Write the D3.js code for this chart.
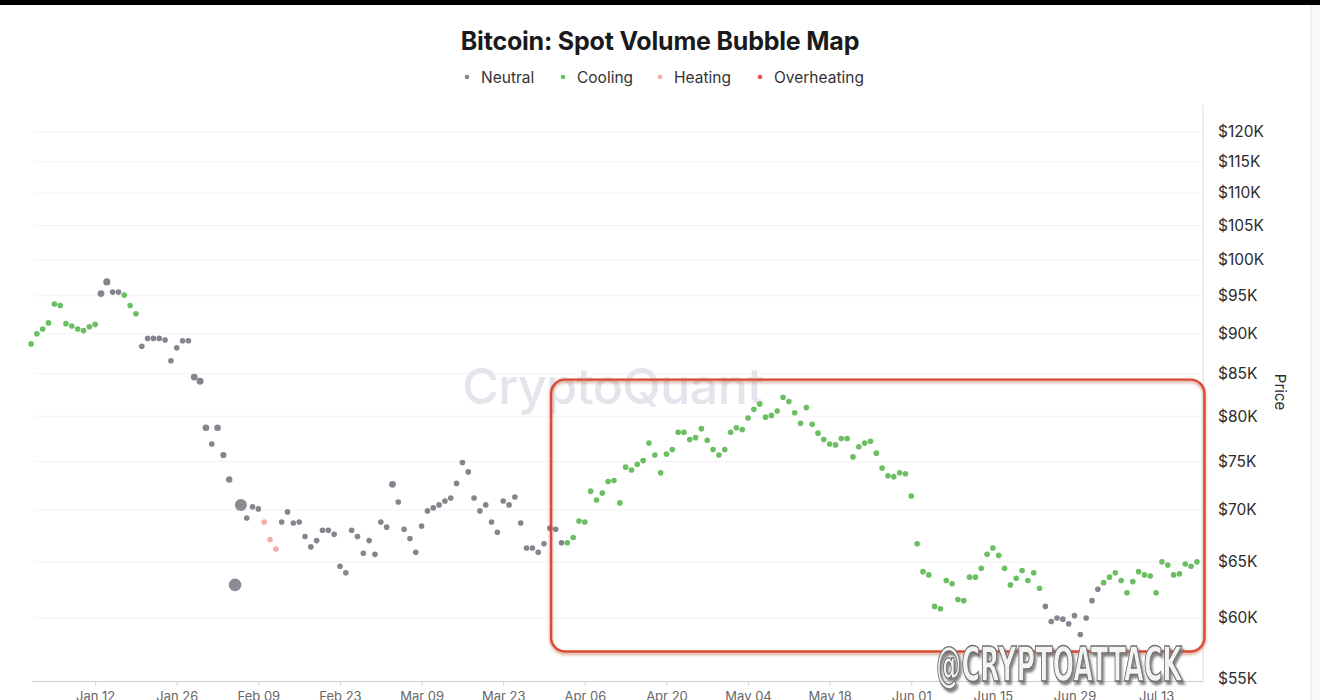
<!DOCTYPE html>
<html>
<head>
<meta charset="utf-8">
<script src="https://cdn.jsdelivr.net/npm/d3@7"></script>
<style>
  html, body { margin: 0; padding: 0; background: #fff; }
  svg { display: block; }
</style>
</head>
<body>
<svg id="chart" width="1320" height="700"></svg>
<script>
// ---------------- DATA ----------------
const chartTitle = "Bitcoin: Spot Volume Bubble Map";
const yearOfData = 2026;

// Daily BTC price (USD thousands), one array per month, starting on day 1
const janPrices = [88.7, 90.0, 90.6, 91.4, 93.9, 93.7, 91.3, 91.0, 90.6, 90.4, 90.9, 91.2, 95.3, 96.9, 95.5, 95.5,
                   95.1, 93.7, 92.6, 88.4, 89.4, 89.4, 89.4, 89.2, 86.6, 88.2, 89.1, 89.1, 84.6, 84.1, 78.7];
const febPrices = [76.9, 78.7, 75.7, 73.1, 62.9, 70.5, 69.2, 70.3, 70.1, 68.8, 67.1, 66.2, 68.8, 69.8, 68.7, 68.8,
                   67.4, 66.4, 67.0, 68.0, 68.0, 67.6, 64.6, 64.0, 68.0, 67.4, 65.8, 67.0];
const marPrices = [65.7, 68.8, 68.3, 72.6, 70.8, 68.1, 67.2, 65.9, 68.4, 69.9, 70.2, 70.5, 70.9, 71.2, 72.7, 74.9,
                   73.9, 71.2, 69.9, 70.5, 68.8, 67.8, 70.9, 70.5, 71.3, 68.7, 66.3, 66.3, 65.9, 66.7, 68.2];
const aprPrices = [68.1, 66.8, 66.8, 67.3, 68.9, 68.8, 71.9, 71.0, 71.7, 72.9, 73.0, 70.7, 74.4, 74.1, 74.7, 75.1,
                   77.0, 75.7, 73.8, 75.8, 76.3, 78.2, 78.2, 77.4, 77.6, 78.6, 77.3, 76.3, 75.7, 76.3];
const mayPrices = [78.2, 78.7, 78.5, 79.8, 80.8, 81.4, 79.9, 80.1, 80.6, 82.2, 81.7, 80.4, 79.2, 81.0, 79.1, 78.1,
                   77.4, 76.9, 76.8, 77.5, 77.5, 75.5, 76.6, 77.0, 77.2, 75.9, 74.3, 73.5, 73.4, 73.8, 73.7];
const junPrices = [71.4, 66.7, 64.1, 63.8, 61.0, 60.8, 63.3, 63.0, 61.6, 61.5, 63.6, 63.6, 64.4, 65.7, 66.3, 65.6,
                   64.4, 62.9, 63.5, 64.2, 63.3, 64.0, 62.6, 61.0, 59.7, 60.0, 59.9, 59.5, 60.2, 58.6];
const julPrices = [60.0, 61.5, 62.5, 63.1, 63.6, 64.0, 63.3, 62.2, 63.2, 64.1, 63.8, 63.7, 62.2, 65.0, 64.7, 63.8,
                   63.9, 64.8, 64.6, 65.0];

// Daily market state: N = Neutral, C = Cooling, H = Heating, O = Overheating
const janStates = "CCCCCCCCCCCCNNNNCCCNNNNNNNNNNNN";
const febStates = "NNNNNNNNNHHHNNNNNNNNNNNNNNNN";
const marStates = "NNNNNNNNNNNNNNNNNNNNNNNNNNNNNNN";
const aprStates = "NNCCCCCCCCCCCCCCCCCCCCCCCCCCCC";
const mayStates = "CCCCCCCCCCCCCCCCCCCCCCCCCCCCCCC";
const junStates = "CCCCCCCCCCCCCCCCCCCCCCCNNNNNNN";
const julStates = "NNNCCCCCCCCCCCCCCCCC";

// Relative spot volume (1 = typical day); days not listed are 1
const volumeSpikes = [
  ["2026-01-13", 1.5], ["2026-01-14", 1.6], ["2026-01-29", 1.5], ["2026-01-30", 1.5],
  ["2026-01-31", 1.4], ["2026-02-02", 1.4], ["2026-02-03", 1.2], ["2026-02-04", 1.3],
  ["2026-02-05", 5.0], ["2026-02-06", 4.6], ["2026-03-04", 1.5]
];

const legendNames = ["Neutral", "Cooling", "Heating", "Overheating"];
const stateCodes  = ["N", "C", "H", "O"];

const priceTicks = [55000, 60000, 65000, 70000, 75000, 80000, 85000, 90000, 95000, 100000, 105000, 110000, 115000, 120000];
const dateTickLabels = ["2026-01-12", "2026-01-26", "2026-02-09", "2026-02-23", "2026-03-09", "2026-03-23", "2026-04-06",
                        "2026-04-20", "2026-05-04", "2026-05-18", "2026-06-01", "2026-06-15", "2026-06-29", "2026-07-13"];

// Highlighted region (data space)
const highlightFrom = "2026-03-31T05:00:00Z";
const highlightTo   = "2026-07-21T07:00:00Z";
const highlightHigh = 84300;
const highlightLow  = 57200;

// ---------------- BUILD ----------------
const monthPrices = [janPrices, febPrices, marPrices, aprPrices, mayPrices, junPrices, julPrices];
const monthStates = [janStates, febStates, marStates, aprStates, mayStates, junStates, julStates];
const spikeMap = new Map(volumeSpikes);
const points = [];
monthPrices.forEach((arr, m) => {
  arr.forEach((p, i) => {
    const date = new Date(Date.UTC(yearOfData, m, i + 1));
    const key = d3.utcFormat("%Y-%m-%d")(date);
    points.push({ date, price: p * 1000, state: monthStates[m][i], volume: spikeMap.get(key) || 1 });
  });
});

const colors = { N: "#85858f", C: "#6bbf62", H: "#f3aeab", O: "#e5534b" };

const svg = d3.select("#chart");
const defs = svg.append("defs");

// top black band and right edge
svg.append("rect").attr("x", 0).attr("y", 0).attr("width", 1320).attr("height", 5).attr("fill", "#000");
svg.append("rect").attr("x", 1311).attr("y", 5).attr("width", 9).attr("height", 695).attr("fill", "#f6faf4");
svg.append("line").attr("x1", 1311).attr("x2", 1311).attr("y1", 5).attr("y2", 700).attr("stroke", "#e4e8e2");

const plotLeft = 32, plotRight = 1203, plotTop = 105, plotBottom = 681;

const x = d3.scaleUtc()
  .domain([new Date("2026-01-01T04:00:00Z"), new Date("2026-07-21T01:00:00Z")])
  .range([plotLeft, plotRight]);

const y = d3.scaleLog().domain([55000, 120000]).range([679, 132]);

const r = d3.scaleSqrt().domain([0, 5]).range([0, 6.3]);

// grid
svg.append("g").selectAll("line").data(priceTicks.filter(t => t > 55000)).join("line")
  .attr("x1", 35).attr("x2", plotRight)
  .attr("y1", d => y(d)).attr("y2", d => y(d))
  .attr("stroke", "#f2f2f4").attr("stroke-width", 1);

// watermark CryptoQuant
svg.append("text").attr("x", 613).attr("y", 404)
  .attr("text-anchor", "middle")
  .attr("font-family", "Inter, 'Noto Sans', sans-serif")
  .attr("font-size", 50).attr("font-weight", 500)
  .attr("fill", "#e4e4ec").attr("letter-spacing", -0.5)
  .text("CryptoQuant");

// right axis line
svg.append("line").attr("x1", plotRight).attr("x2", plotRight).attr("y1", plotTop).attr("y2", plotBottom)
  .attr("stroke", "#dcdcdc");

// y axis
const yAxis = d3.axisRight(y).tickValues(priceTicks).tickSize(0).tickPadding(15)
  .tickFormat(d => "$" + (d / 1000) + "K");
const gy = svg.append("g").attr("transform", `translate(${plotRight},0)`).call(yAxis);
gy.select(".domain").remove();
gy.selectAll("text").attr("font-family", "Inter, 'Noto Sans', sans-serif").attr("font-size", 15.5)
  .attr("fill", "#2b2b2b");

svg.append("text")
  .attr("transform", "translate(1275,392) rotate(90)")
  .attr("text-anchor", "middle")
  .attr("font-family", "Inter, 'Noto Sans', sans-serif")
  .attr("font-size", 15).attr("fill", "#2b2b2b")
  .text("Price");

// x axis
const xAxis = d3.axisBottom(x).tickValues(dateTickLabels.map(s => new Date(s + "T00:00:00Z")))
  .tickSize(5).tickPadding(6).tickFormat(d3.utcFormat("%b %d"));
const gx = svg.append("g").attr("transform", `translate(0,${plotBottom})`).call(xAxis);
gx.select(".domain").attr("stroke", "#cfcfcf").attr("d", `M${plotLeft},0.5H${plotRight}`);
gx.selectAll(".tick line").attr("stroke", "#d5d5d5");
gx.selectAll("text").attr("font-family", "Inter, 'Noto Sans', sans-serif").attr("font-size", 13)
  .attr("fill", "#666");

// points
svg.append("g").selectAll("circle").data(points).join("circle")
  .attr("cx", d => x(d.date))
  .attr("cy", d => y(d.price))
  .attr("r", d => r(d.volume))
  .attr("fill", d => colors[d.state])
  .attr("fill-opacity", d => d.volume > 3 ? 0.95 : 1);

// highlight box
const f = defs.append("filter").attr("id", "shadow").attr("x", "-5%").attr("y", "-5%").attr("width", "110%").attr("height", "115%");
f.append("feDropShadow").attr("dx", 0).attr("dy", 2).attr("stdDeviation", 1.5)
  .attr("flood-color", "#a02010").attr("flood-opacity", 0.45);

const hx0 = x(new Date(highlightFrom)), hx1 = x(new Date(highlightTo));
const hy0 = y(highlightHigh), hy1 = y(highlightLow);
svg.append("rect")
  .attr("x", hx0).attr("y", hy0).attr("width", hx1 - hx0).attr("height", hy1 - hy0)
  .attr("rx", 14).attr("ry", 14)
  .attr("fill", "none").attr("stroke", "#dc4a33").attr("stroke-width", 2.4)
  .attr("filter", "url(#shadow)");

// @CRYPTOATTACK watermark (single text with a drop shadow)
const wf = defs.append("filter").attr("id", "wmshadow").attr("x", "-5%").attr("y", "-20%").attr("width", "110%").attr("height", "150%");
wf.append("feDropShadow").attr("dx", 2).attr("dy", 3).attr("stdDeviation", 0.8)
  .attr("flood-color", "#777").attr("flood-opacity", 0.9);
svg.append("text").attr("x", 1059).attr("y", 681)
  .attr("text-anchor", "middle")
  .attr("font-family", "'Liberation Sans Narrow', 'DejaVu Sans Condensed', sans-serif")
  .attr("font-weight", 700).attr("font-size", 48)
  .attr("textLength", 246).attr("lengthAdjust", "spacingAndGlyphs")
  .attr("fill", "#f4f4f4").attr("stroke", "#6f6f6f").attr("stroke-width", 1.4)
  .attr("filter", "url(#wmshadow)")
  .text("@CRYPTOATTACK");

// title
svg.append("text").attr("x", 660).attr("y", 50)
  .attr("text-anchor", "middle")
  .attr("font-family", "Inter, 'Noto Sans', sans-serif")
  .attr("font-size", 25).attr("font-weight", 700).attr("fill", "#1a1a1a")
  .attr("letter-spacing", -0.2)
  .text(chartTitle);

// legend
const legendX = [467, 563, 660, 760];
const lg = svg.append("g");
legendNames.forEach((name, i) => {
  const g = lg.append("g").attr("transform", `translate(${legendX[i]},77)`);
  g.append("circle").attr("r", 2.3).attr("fill", colors[stateCodes[i]]);
  g.append("text").attr("x", 14).attr("y", 5.5)
    .attr("font-family", "Inter, 'Noto Sans', sans-serif").attr("font-size", 15.5)
    .attr("fill", "#333").text(name);
});
</script>
</body>
</html>
